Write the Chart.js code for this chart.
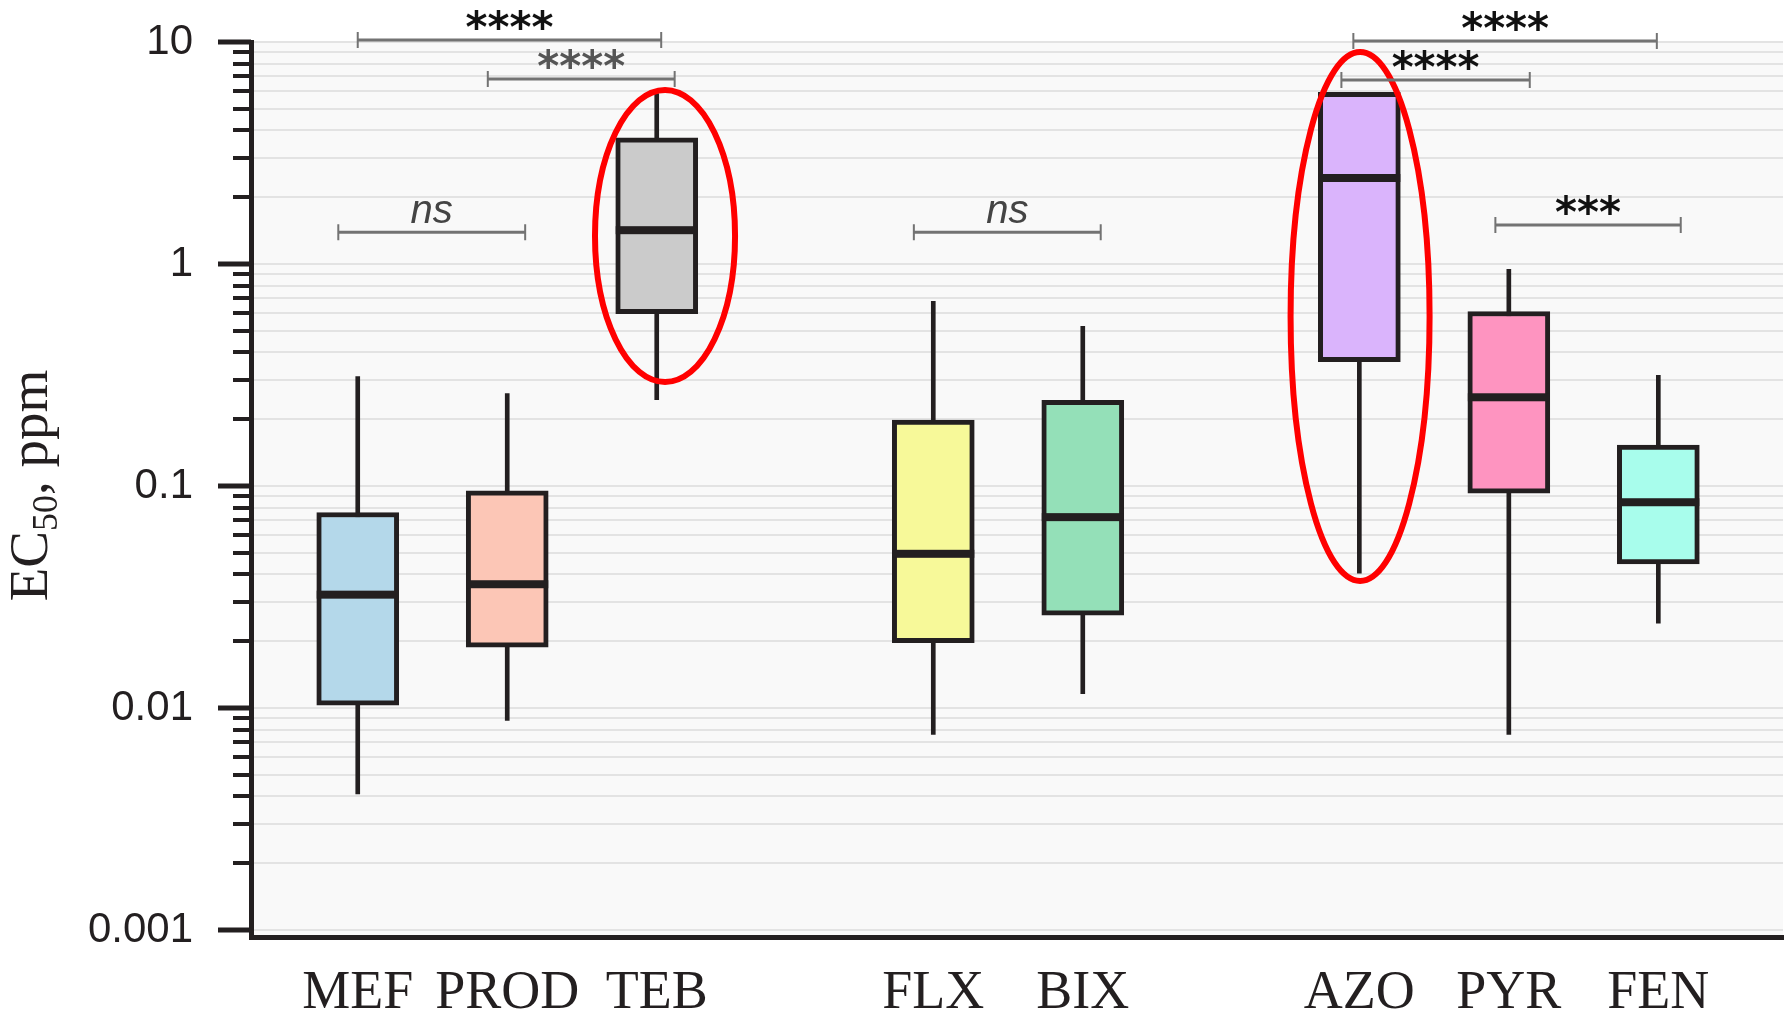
<!DOCTYPE html>
<html>
<head>
<meta charset="utf-8">
<script src="https://cdn.jsdelivr.net/npm/chart.js@4.4.1/dist/chart.umd.min.js"></script>
<style>
  html, body { margin: 0; padding: 0; background: #fff; }
</style>
</head>
<body>
<canvas id="ec50-boxplot" width="1792" height="1015"></canvas>
<script>
// fungicides, grouped by class
const categories = ['MEF', 'PROD', 'TEB', 'FLX', 'BIX', 'AZO', 'PYR', 'FEN'];
const groupOf = [0, 0, 0, 1, 1, 2, 2, 2];
const groupGap = 0.85;

// box statistics, EC50 in ppm
const whiskerLow = [0.0041, 0.0088, 0.245, 0.0076, 0.0116, 0.0405, 0.0076, 0.0241];
const q1 = [0.0103, 0.0188, 0.597, 0.0197, 0.0262, 0.363, 0.0929, 0.0446];
const median = [0.0324, 0.0361, 1.42, 0.0495, 0.0724, 2.44, 0.251, 0.0845];
const q3 = [0.076, 0.095, 3.70, 0.198, 0.243, 5.94, 0.611, 0.153];
const whiskerHigh = [0.311, 0.261, 5.86, 0.679, 0.524, 5.94, 0.946, 0.315];

// y axis ticks
const majorTicks = [0.001, 0.01, 0.1, 1, 10];
const majorLabels = ['0.001', '0.01', '0.1', '1', '10'];

// significance brackets (x in category positions, y in ppm)
const sigText = ['****', '****', 'ns', 'ns', '****', '****', '***'];
const sigFrom = [0, 0.87, -0.13, 3.72, 6.66, 6.58, 7.61];
const sigTo = [2.03, 2.12, 1.12, 4.97, 8.69, 7.84, 8.85];
const sigY = [10.2, 6.81, 1.39, 1.39, 10.1, 6.74, 1.50];

// highlighted groups (red ellipses): x range and y range
const hiliteX = [[1.567, 2.544], [6.22, 7.19]];
const hiliteY = [[0.285, 6.27], [0.0362, 9.3]];

const boxColors = ['#b4d8ea', '#fcc6b6', '#cbcbcb', '#f7f999', '#94e0b8', '#dab4fc', '#fe94c0', '#a8fdec'];
const ink = '#231f20';

const xPositions = categories.map((c, i) => i + groupOf[i] * groupGap);

const yTicks = [];
majorTicks.forEach((d, k) => {
  yTicks.push(d);
  if (k < majorTicks.length - 1) {
    for (let m = 2; m <= 9; m++) yTicks.push(m * d);
  }
});
const isMajor = v => majorTicks.some(m => Math.abs(Math.log10(v) - Math.log10(m)) < 1e-6);

const boxplotExtras = {
  id: 'boxplotExtras',
  beforeDraw(chart) {
    const { ctx, chartArea: a } = chart;
    ctx.save();
    ctx.fillStyle = '#f9f9f9';
    ctx.fillRect(a.left, a.top, a.right - a.left, a.bottom - a.top);
    ctx.restore();
  },
  afterDraw(chart) {
    const { ctx, chartArea: a } = chart;
    const xs = chart.scales.x, ys = chart.scales.y;
    ctx.save();

    // y axis tick marks, long for decades
    ctx.strokeStyle = ink;
    ys.ticks.forEach(t => {
      const y = Math.round(ys.getPixelForValue(t.value));
      const major = isMajor(t.value);
      ctx.lineWidth = major ? 5 : 4;
      ctx.beginPath();
      ctx.moveTo(a.left - (major ? 33 : 18), y);
      ctx.lineTo(a.left, y);
      ctx.stroke();
    });

    // median lines
    const boxMeta = chart.getDatasetMeta(0);
    boxMeta.data.forEach((bar, i) => {
      const y = ys.getPixelForValue(median[i]);
      ctx.fillStyle = ink;
      ctx.fillRect(bar.x - bar.width / 2, y - 4, bar.width, 8);
    });

    // red ellipses
    ctx.strokeStyle = '#ff0000';
    ctx.lineWidth = 6;
    hiliteX.forEach((xr, k) => {
      const x1 = xs.getPixelForValue(xr[0]), x2 = xs.getPixelForValue(xr[1]);
      const y1 = ys.getPixelForValue(hiliteY[k][1]), y2 = ys.getPixelForValue(hiliteY[k][0]);
      ctx.beginPath();
      ctx.ellipse((x1 + x2) / 2, (y1 + y2) / 2, (x2 - x1) / 2 - 3, (y2 - y1) / 2 - 3, 0, 0, Math.PI * 2);
      ctx.stroke();
    });

    // significance brackets
    const sigInk = ['#111', '#555', '#444', '#444', '#111', '#111', '#111'];
    sigText.forEach((txt, k) => {
      const x1 = xs.getPixelForValue(sigFrom[k]), x2 = xs.getPixelForValue(sigTo[k]);
      const y = ys.getPixelForValue(sigY[k]);
      ctx.strokeStyle = '#737373';
      ctx.lineWidth = 3;
      ctx.beginPath();
      ctx.moveTo(x1, y); ctx.lineTo(x2, y);
      ctx.stroke();
      ctx.lineWidth = 2;
      ctx.beginPath();
      ctx.moveTo(x1, y - 8); ctx.lineTo(x1, y + 8);
      ctx.moveTo(x2, y - 8); ctx.lineTo(x2, y + 8);
      ctx.stroke();
      ctx.fillStyle = sigInk[k];
      ctx.textAlign = 'center';
      ctx.textBaseline = 'alphabetic';
      if (txt === 'ns') {
        ctx.font = 'italic 40px "Liberation Sans"';
        ctx.fillText(txt, (x1 + x2) / 2, y - 9);
      } else {
        ctx.font = 'bold 42px "DejaVu Sans"';
        ctx.fillText(txt, (x1 + x2) / 2, y + 2);
      }
    });

    // y axis title with subscript
    ctx.fillStyle = ink;
    ctx.translate(47, (a.top + a.bottom) / 2 - 4);
    ctx.rotate(-Math.PI / 2);
    const big = '55px "Liberation Serif"', small = '36px "Liberation Serif"';
    const parts = [['EC', big, 0], ['50', small, 10], [', ppm', big, 0]];
    let total = 0;
    parts.forEach(p => { ctx.font = p[1]; total += ctx.measureText(p[0]).width; });
    let x = -total / 2;
    ctx.textAlign = 'left';
    ctx.textBaseline = 'alphabetic';
    parts.forEach(p => {
      ctx.font = p[1];
      ctx.fillText(p[0], x, p[2]);
      x += ctx.measureText(p[0]).width;
    });
    ctx.restore();
  }
};

new Chart('ec50-boxplot', {
  type: 'bar',
  data: {
    datasets: [
      {
        label: 'box',
        data: categories.map((c, i) => ({ x: xPositions[i], y: [q1[i], q3[i]] })),
        backgroundColor: boxColors,
        borderColor: ink,
        borderWidth: 5,
        borderSkipped: false,
        barThickness: 82,
        grouped: false,
      },
      {
        label: 'whisker',
        data: categories.map((c, i) => ({ x: xPositions[i], y: [whiskerLow[i], whiskerHigh[i]] })),
        backgroundColor: ink,
        borderWidth: 0,
        barThickness: 4,
        grouped: false,
      },
    ],
  },
  options: {
    responsive: false,
    animation: false,
    layout: { padding: { left: 0, top: 42, right: 9, bottom: 0 } },
    plugins: {
      legend: { display: false },
      tooltip: { enabled: false },
    },
    scales: {
      x: {
        type: 'linear',
        min: -0.714,
        max: 9.534,
        offset: false,
        afterFit: s => { s.height = 78; s.paddingLeft = 0; s.paddingRight = 0; },
        afterBuildTicks: s => { s.ticks = xPositions.map(v => ({ value: v })); },
        grid: { display: false, drawTicks: false, offset: false },
        border: { display: true, color: ink, width: 5 },
        ticks: {
          autoSkip: false,
          maxRotation: 0,
          padding: 24,
          color: ink,
          font: { family: '"Liberation Serif"', size: 54 },
          callback: (v, i) => categories[i],
        },
      },
      y: {
        type: 'logarithmic',
        min: 0.00093,
        max: 10,
        afterFit: s => { s.width = 251; s.paddingTop = 0; s.paddingBottom = 0; },
        afterBuildTicks: s => { s.ticks = yTicks.map(v => ({ value: v })); },
        grid: { color: '#e3e3e3', lineWidth: 2, drawTicks: false },
        border: { display: true, color: ink, width: 5 },
        ticks: {
          autoSkip: false,
          padding: 58,
          color: ink,
          font: { family: '"Liberation Sans"', size: 42 },
          callback: v => {
            const k = majorTicks.findIndex(m => Math.abs(Math.log10(v) - Math.log10(m)) < 1e-6);
            return k >= 0 ? majorLabels[k] : '';
          },
        },
      },
    },
  },
  plugins: [boxplotExtras],
});
</script>
</body>
</html>
